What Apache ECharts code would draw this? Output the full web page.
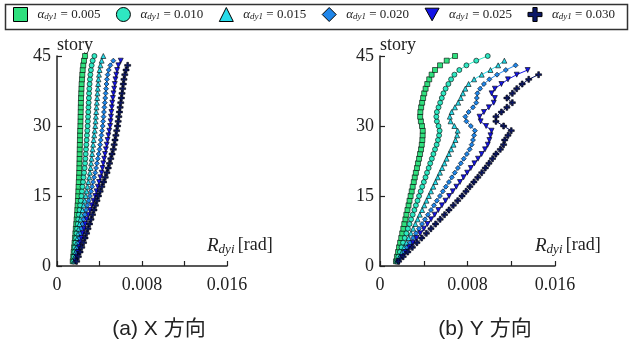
<!DOCTYPE html>
<html><head><meta charset="utf-8">
<script src="https://cdn.jsdelivr.net/npm/echarts@6/dist/echarts.min.js"></script>
<style>html,body{margin:0;padding:0;background:#fff}#c{width:629px;height:342px}</style>
</head><body><div id="c"></div>
<script>
// ---- data ----
const alphaLabels = ['0.005','0.010','0.015','0.020','0.025','0.030'];
const xTickLabels = ['0','0.008','0.016'];
const yTicks = [0, 15, 30, 45];
const panelTitles = ['(a) X 方向', '(b) Y 方向'];

// X direction: drift per story (story = index + 1)
const x005 = [.00148,.00153,.00157,.00161,.00165,.00169,.00173,.00177,.00181,.00185,
  .00188,.00191,.00194,.00197,.00199,.00201,.00203,.00205,.00207,.00209,
  .00210,.00211,.00212,.00213,.00214,.00215,.00216,.00217,.00218,.00220,
  .00221,.00222,.00223,.00224,.00225,.00226,.00228,.00230,.00232,.00235,
  .00238,.00242,.00247,.00254,.00264];
const x010 = [.00154,.00159,.00164,.00169,.00174,.00179,.00184,.00189,.00195,.00200,
  .00206,.00212,.00218,.00224,.00230,.00235,.00240,.00245,.00250,.00255,
  .00260,.00264,.00267,.00270,.00273,.00276,.00279,.00282,.00285,.00288,
  .00290,.00292,.00294,.00296,.00298,.00300,.00302,.00304,.00307,.00310,
  .00314,.00319,.00326,.00336,.00352];
const x015 = [.00163,.00169,.00175,.00181,.00187,.00193,.00199,.00205,.00212,.00220,
  .00230,.00240,.00250,.00260,.00270,.00279,.00287,.00295,.00303,.00310,
  .00316,.00321,.00326,.00331,.00335,.00340,.00345,.00350,.00355,.00360,
  .00363,.00366,.00369,.00372,.00375,.00378,.00381,.00384,.00387,.00390,
  .00395,.00401,.00409,.00420,.00436];
const x020 = [.00170,.00178,.00186,.00195,.00204,.00213,.00222,.00231,.00240,.00250,
  .00262,.00274,.00286,.00298,.00310,.00320,.00330,.00340,.00350,.00360,
  .00368,.00376,.00384,.00392,.00400,.00406,.00412,.00418,.00424,.00430,
  .00434,.00438,.00442,.00446,.00450,.00454,.00458,.00462,.00466,.00470,
  .00477,.00487,.00502,.00530];
const x025 = [.00176,.00187,.00198,.00209,.00220,.00231,.00243,.00255,.00267,.00280,
  .00296,.00312,.00328,.00344,.00360,.00372,.00384,.00396,.00408,.00420,
  .00428,.00436,.00444,.00452,.00460,.00468,.00476,.00484,.00492,.00500,
  .00504,.00508,.00512,.00516,.00520,.00526,.00532,.00538,.00544,.00550,
  .00558,.00566,.00578,.00600];
const x030 = [.00185,.00201,.00217,.00233,.00250,.00264,.00278,.00292,.00306,.00320,
  .00334,.00348,.00362,.00376,.00390,.00406,.00422,.00438,.00454,.00470,
  .00482,.00494,.00506,.00518,.00530,.00538,.00546,.00554,.00562,.00570,
  .00576,.00582,.00588,.00594,.00600,.00606,.00612,.00618,.00624,.00630,
  .00638,.00650,.00665];

// Y direction
const y005 = [.00146,.00155,.00165,.00174,.00184,.00194,.00203,.00213,.00222,.00232,
  .00241,.00251,.00261,.00270,.00280,.00290,.00299,.00309,.00318,.00328,
  .00338,.00347,.00357,.00366,.00375,.00382,.00387,.00390,.00391,.00384,
  .00374,.00367,.00369,.00376,.00385,.00394,.00404,.00417,.00432,.00450,
  .00472,.00503,.00549,.00610,.00686];
const y010 = [.00153,.00168,.00182,.00197,.00211,.00226,.00241,.00255,.00270,.00284,
  .00299,.00314,.00328,.00343,.00357,.00372,.00386,.00401,.00416,.00430,
  .00445,.00459,.00474,.00488,.00503,.00518,.00530,.00540,.00545,.00535,
  .00520,.00515,.00520,.00535,.00550,.00565,.00580,.00600,.00625,.00650,
  .00680,.00725,.00790,.00880,.00985];
const y015 = [.00160,.00180,.00201,.00221,.00242,.00262,.00283,.00303,.00323,.00344,
  .00364,.00385,.00405,.00425,.00446,.00466,.00487,.00507,.00528,.00548,
  .00568,.00589,.00609,.00630,.00650,.00672,.00690,.00705,.00710,.00680,
  .00645,.00638,.00655,.00685,.00715,.00738,.00758,.00780,.00810,.00860,
  .00930,.01010,.01080,.01137];
const y020 = [.00165,.00192,.00220,.00247,.00274,.00302,.00329,.00356,.00384,.00411,
  .00438,.00466,.00493,.00520,.00548,.00575,.00602,.00630,.00657,.00684,
  .00712,.00739,.00766,.00794,.00820,.00838,.00850,.00860,.00868,.00830,
  .00790,.00780,.00810,.00850,.00880,.00885,.00890,.00915,.00950,.01000,
  .01070,.01150,.01240];
const y025 = [.00170,.00203,.00236,.00269,.00302,.00335,.00368,.00401,.00434,.00467,
  .00500,.00533,.00566,.00599,.00632,.00665,.00698,.00731,.00764,.00797,
  .00830,.00863,.00896,.00929,.00960,.00985,.01000,.01010,.01020,.00970,
  .00920,.00910,.00950,.00995,.01040,.01050,.01020,.01050,.01110,.01170,
  .01250,.01350];
const y030 = [.00170,.00212,.00254,.00296,.00338,.00381,.00424,.00466,.00508,.00550,
  .00590,.00630,.00670,.00710,.00750,.00786,.00822,.00858,.00894,.00930,
  .00963,.00996,.01029,.01060,.01100,.01130,.01140,.01170,.01200,.01130,
  .01060,.01060,.01110,.01160,.01210,.01160,.01210,.01250,.01300,.01360,
  .01450];

const xSeries = [x005, x010, x015, x020, x025, x030];
const ySeries = [y005, y010, y015, y020, y025, y030];

// ---- style ----
const colors = ['#2fe07e', '#2ee8c2', '#28dcea', '#1f86ea', '#1414e6', '#0b1766'];
const plusPath = 'path://M3.5,0 H6.5 V3.5 H10 V6.5 H6.5 V10 H3.5 V6.5 H0 V3.5 H3.5 Z';
const downTri = 'path://M0,0 L10,0 L5,9 Z';
const symbols = ['rect', 'circle', 'triangle', 'diamond', downTri, plusPath];
const serif = '"Liberation Serif", "Times New Roman", serif';
const names = alphaLabels.map(v => 'αdy1 = ' + v);

function mkSeries(arrs, gi) {
  return arrs.map((arr, k) => ({
    name: names[k], type: 'line', xAxisIndex: gi, yAxisIndex: gi,
    data: arr.map((v, i) => [v, i + 1]),
    symbol: symbols[k], symbolSize: k === 5 ? 6 : 5,
    itemStyle: { color: colors[k], borderColor: '#000', borderWidth: 0.6 },
    lineStyle: { color: colors[k], width: 1 },
    emphasis: { disabled: true }, animation: false, z: 2 + k
  }));
}

function mkX(gi) {
  return {
    gridIndex: gi, type: 'value', min: 0, max: 0.016, interval: 0.004,
    axisLine: { show: true, onZero: false, lineStyle: { color: '#222', width: 1.5 } },
    axisTick: { show: true, inside: true, length: 5, lineStyle: { color: '#222', width: 1.2 } },
    splitLine: { show: false },
    axisLabel: {
      margin: 10, fontFamily: serif, fontSize: 18, color: '#222',
      formatter: v => { const k = Math.round(v / 0.008 * 1000) / 1000; return Number.isInteger(k) ? xTickLabels[k] : ''; }
    },
    name: '{i|R}{s|dyi} {n|[rad]}', nameLocation: 'end', nameGap: -20,
    nameTextStyle: {
      align: 'left', verticalAlign: 'bottom', padding: [0, 0, 10, 0],
      rich: {
        i: { fontFamily: serif, fontStyle: 'italic', fontSize: 19, color: '#222' },
        s: { fontFamily: serif, fontStyle: 'italic', fontSize: 13, color: '#222', padding: [8, 0, 0, 0] },
        n: { fontFamily: serif, fontSize: 18, color: '#222' }
      }
    }
  };
}
function mkY(gi) {
  return {
    gridIndex: gi, type: 'value', min: 0, max: 45, interval: 15,
    axisLine: { show: true, onZero: false, lineStyle: { color: '#222', width: 1.5 } },
    axisTick: { show: true, inside: true, length: 5, lineStyle: { color: '#222', width: 1.2 } },
    splitLine: { show: false },
    axisLabel: { margin: 6, fontFamily: serif, fontSize: 18, color: '#222',
      formatter: v => yTicks.includes(v) ? String(v) : '' },
    name: 'story', nameLocation: 'end', nameGap: 2,
    nameTextStyle: { align: 'left', verticalAlign: 'bottom', fontFamily: serif, fontSize: 18, color: '#222' }
  };
}

const option = {
  backgroundColor: '#fff',
  animation: false,
  grid: [
    { left: 57, top: 56, width: 170, height: 210 },
    { left: 380, top: 56, width: 175, height: 210 }
  ],
  xAxis: [mkX(0), mkX(1)],
  yAxis: [mkY(0), mkY(1)],
  title: panelTitles.map((t, i) => ({
    text: t, left: i === 0 ? 154 : 480, top: 314, textAlign: 'center',
    textStyle: { fontFamily: '"Liberation Sans", "Noto Sans CJK JP", sans-serif', fontSize: 21, fontWeight: 'normal', color: '#222' }
  })),
  legend: {
    left: 13, top: 7, itemWidth: 14, itemHeight: 14, itemGap: 15.5,
    padding: 0,
    data: names.map((n, k) => ({ name: n, icon: symbols[k] })),
    itemStyle: { borderColor: '#000', borderWidth: 1 },
    formatter: n => '{a|α}{s|dy1}{b|' + n.slice(4) + '}',
    textStyle: {
      width: 72,
      rich: {
        a: { fontFamily: serif, fontStyle: 'italic', fontSize: 13, color: '#222', padding: [0, 0, 0, 5] },
        s: { fontFamily: serif, fontStyle: 'italic', fontSize: 9, color: '#222', padding: [5, 0, 0, 0] },
        b: { fontFamily: serif, fontSize: 13, color: '#222' }
      }
    },
    selectedMode: false
  },
  graphic: [{
    type: 'rect', left: 3, top: 2, shape: { width: 622, height: 25 },
    style: { fill: 'none', stroke: '#333', lineWidth: 1.5 }, silent: true
  }],
  series: [...mkSeries(xSeries, 0), ...mkSeries(ySeries, 1)]
};
const chart = echarts.init(document.getElementById('c'), null, { renderer: 'canvas' });
chart.setOption(option);
</script></body></html>
